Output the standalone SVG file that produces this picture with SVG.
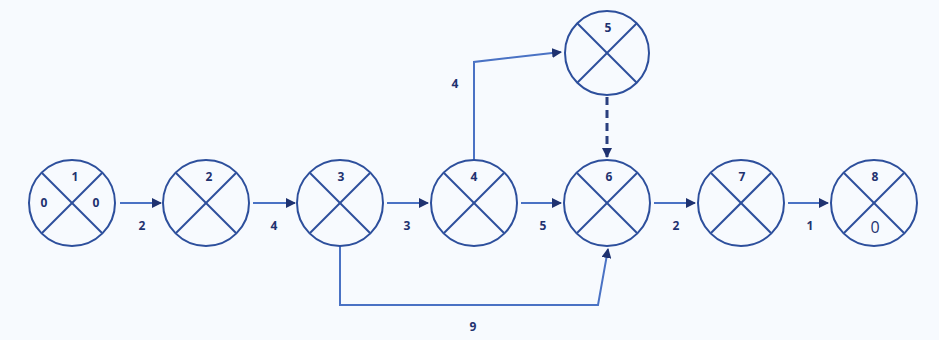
<svg xmlns="http://www.w3.org/2000/svg" width="939" height="340" viewBox="0 0 939 340">
<defs>
<style>
.n circle{fill:none;stroke:#2d4f9c;stroke-width:2}
.n line{stroke:#2d4f9c;stroke-width:2}
.t{font-family:"Open Sans","Liberation Sans",sans-serif;font-size:12px;font-weight:bold;fill:#1f3270;text-anchor:middle}
.b{font-family:"Open Sans","Liberation Sans",sans-serif;font-size:16px;fill:#1f3270;text-anchor:middle}
.c{fill:none;stroke:#4a72c4;stroke-width:2}
.d{fill:none;stroke:#2a3f7e;stroke-width:3;stroke-dasharray:8 5}
</style>
<marker id="ah" viewBox="0 0 10 10" refX="9" refY="5" markerWidth="10" markerHeight="10" markerUnits="userSpaceOnUse" orient="auto">
<path d="M0,0 L10,5 L0,10 z" fill="#1f3270"/>
</marker>
</defs>
<rect width="939" height="340" fill="#f7fafe"/>
<g id="connectors">
<line class="c" x1="120" y1="203" x2="161" y2="203" marker-end="url(#ah)"/>
<line class="c" x1="253" y1="203" x2="295" y2="203" marker-end="url(#ah)"/>
<line class="c" x1="387" y1="203" x2="428" y2="203" marker-end="url(#ah)"/>
<line class="c" x1="521" y1="203" x2="561" y2="203" marker-end="url(#ah)"/>
<line class="c" x1="654" y1="203" x2="695" y2="203" marker-end="url(#ah)"/>
<line class="c" x1="788" y1="203" x2="828" y2="203" marker-end="url(#ah)"/>
<polyline class="c" points="474,160 474,62 561,52" marker-end="url(#ah)"/>
<line class="d" x1="607" y1="97" x2="607" y2="157" marker-end="url(#ah)"/>
<polyline class="c" points="340,246 340,305 598,305 608,249" marker-end="url(#ah)"/>
<text class="t" x="142" y="230">2</text>
<text class="t" x="274" y="230">4</text>
<text class="t" x="407" y="230">3</text>
<text class="t" x="543" y="230">5</text>
<text class="t" x="676" y="230">2</text>
<text class="t" x="810" y="230">1</text>
<text class="t" x="455" y="88">4</text>
<text class="t" x="473" y="331">9</text>
</g>
<g id="node1" class="n"><circle cx="72" cy="203" r="43"/><line x1="42" y1="173" x2="102" y2="233"/><line x1="102" y1="173" x2="42" y2="233"/><text class="t" x="75" y="181">1</text><text class="t" x="44" y="207">0</text><text class="t" x="96" y="207">0</text></g>
<g id="node2" class="n"><circle cx="206" cy="203" r="43"/><line x1="176" y1="173" x2="236" y2="233"/><line x1="236" y1="173" x2="176" y2="233"/><text class="t" x="209" y="181">2</text></g>
<g id="node3" class="n"><circle cx="340" cy="203" r="43"/><line x1="310" y1="173" x2="370" y2="233"/><line x1="370" y1="173" x2="310" y2="233"/><text class="t" x="341" y="181">3</text></g>
<g id="node4" class="n"><circle cx="474" cy="203" r="43"/><line x1="444" y1="173" x2="504" y2="233"/><line x1="504" y1="173" x2="444" y2="233"/><text class="t" x="474" y="181">4</text></g>
<g id="node5" class="n"><circle cx="607" cy="53" r="42"/><line x1="577" y1="23" x2="637" y2="83"/><line x1="637" y1="23" x2="577" y2="83"/><text class="t" x="608" y="32">5</text></g>
<g id="node6" class="n"><circle cx="607" cy="203" r="43"/><line x1="577" y1="173" x2="637" y2="233"/><line x1="637" y1="173" x2="577" y2="233"/><text class="t" x="609" y="181">6</text></g>
<g id="node7" class="n"><circle cx="741" cy="203" r="43"/><line x1="711" y1="173" x2="771" y2="233"/><line x1="771" y1="173" x2="711" y2="233"/><text class="t" x="742" y="181">7</text></g>
<g id="node8" class="n"><circle cx="874" cy="203" r="43"/><line x1="844" y1="173" x2="904" y2="233"/><line x1="904" y1="173" x2="844" y2="233"/><text class="t" x="875" y="181">8</text><text class="b" x="875" y="233">0</text></g>
</svg>
